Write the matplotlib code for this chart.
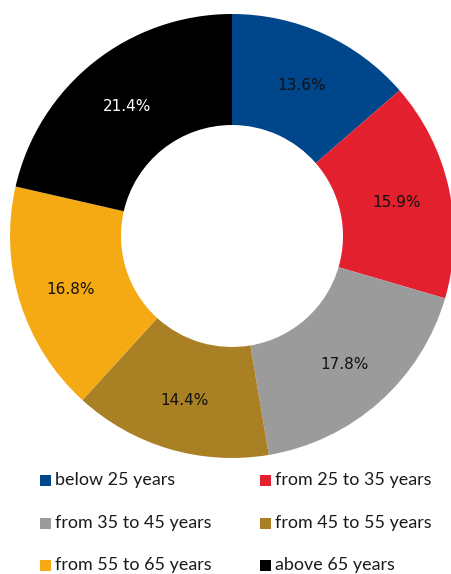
import matplotlib
matplotlib.use("Agg")
import matplotlib.pyplot as plt
from matplotlib.patches import Rectangle

categories = ["below 25 years", "from 25 to 35 years", "from 35 to 45 years",
              "from 45 to 55 years", "from 55 to 65 years", "above 65 years"]
shares = [13.6, 15.9, 17.8, 14.4, 16.8, 21.4]
colors = ["#00468B", "#E3202E", "#9B9B9B", "#A98023", "#F5A913", "#000000"]
label_colors = ["#111111", "#111111", "#111111", "#111111", "#111111", "#FFFFFF"]

W, H = 451, 574
fig = plt.figure(figsize=(W / 100, H / 100), dpi=100)
fig.patch.set_facecolor("white")

# donut: centre (232, 236) px from top-left, outer radius 222 px
cx, cy, R = 232, 236, 222
ax = fig.add_axes([(cx - R) / W, (H - cy - R) / H, 2 * R / W, 2 * R / H])

wedges, texts, autotexts = ax.pie(
    shares, colors=colors, startangle=90, counterclock=False, radius=1,
    wedgeprops=dict(width=0.5, linewidth=0),
    autopct=lambda p: "", pctdistance=0.76, normalize=True)

ax.set_xlim(-1, 1)
ax.set_ylim(-1, 1)
ax.set_aspect("equal")
ax.axis("off")

for t, val, c in zip(autotexts, shares, label_colors):
    t.set_text(f"{val:.1f}%")
    t.set_color(c)
    t.set_fontsize(11)
    t.set_family("DejaVu Sans")
    x, y = t.get_position()
    t.set_position((x, y - 0.012))
for w in wedges:
    w.set_clip_on(False)

# legend: two columns, three rows
col_x = [40, 260]
row_y = [480, 523, 565]
sq = 11
for i, (name, col) in enumerate(zip(categories, colors)):
    x = col_x[i % 2]
    y = row_y[i // 2]
    fig.patches.append(Rectangle((x / W, (H - y - sq / 2) / H), sq / W, sq / H,
                                 transform=fig.transFigure, facecolor=col,
                                 edgecolor="none"))
    fig.text((x + sq + 4) / W, (H - y) / H, name, ha="left", va="center",
             fontsize=12.9, family="Lato", color="#1a1a1a")

fig.savefig("out.png", dpi=100)
